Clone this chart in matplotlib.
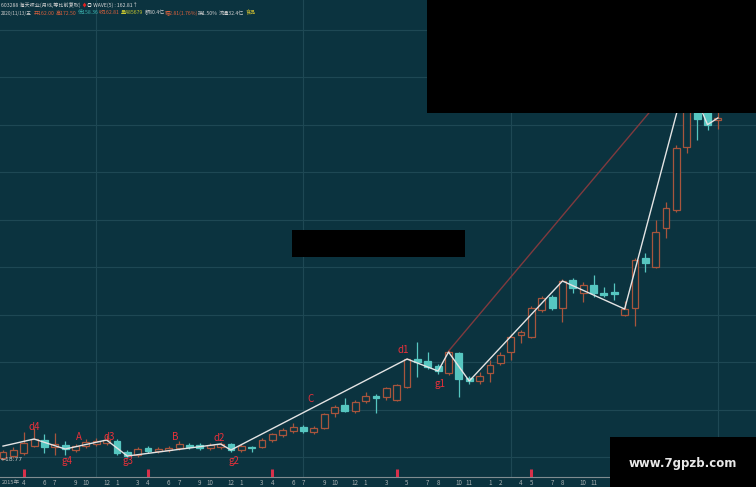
import matplotlib
matplotlib.use('Agg')
import matplotlib.pyplot as plt
import matplotlib.transforms as mtransforms
from matplotlib.patches import Rectangle
import numpy as np

plt.rcParams['font.family'] = ['Noto Sans CJK SC', 'DejaVu Sans']

# monthly bars, 2015-02 .. 2020-11 (603288, 前复权)
opens = [19.58, 20.42, 21.68, 24.63, 27.16, 24.21, 25.05, 22.95, 24.63, 25.48,
         25.90, 26.74, 22.11, 20.84, 23.79, 22.53, 22.95, 23.79, 25.05, 25.05,
         23.79, 24.21, 25.48, 22.95, 24.21, 24.21, 27.16, 29.27, 30.95, 32.64,
         30.53, 32.21, 38.53, 41.90, 39.38, 43.59, 45.69, 45.27, 44.01, 49.48,
         61.28, 60.44, 58.33, 55.38, 63.80, 53.27, 52.01, 55.38, 59.59, 64.23,
         71.39, 70.54, 81.92, 87.39, 82.76, 94.55, 89.08, 92.45, 89.08, 89.50,
         79.81, 82.76, 103.82, 100.03, 116.45, 124.04, 150.57, 179.63, 166.16, 162.00]
highs = [22.95, 24.21, 30.53, 32.21, 29.69, 30.11, 26.74, 25.48, 27.58, 28.00,
         29.27, 27.58, 22.95, 24.21, 24.63, 24.21, 24.63, 26.74, 25.90, 25.90,
         25.90, 26.32, 25.90, 25.48, 24.63, 28.00, 30.11, 32.21, 34.32, 33.48,
         33.06, 38.53, 41.90, 44.85, 44.01, 47.38, 46.54, 49.48, 50.75, 61.70,
         68.44, 64.23, 59.17, 65.07, 64.23, 54.12, 55.80, 60.86, 64.23, 71.81,
         73.49, 83.60, 87.81, 88.23, 94.97, 95.39, 93.71, 96.66, 91.60, 93.29,
         85.71, 103.82, 105.92, 119.82, 127.41, 151.41, 185.11, 183.00, 168.26, 172.50]
lows = [18.77, 19.58, 20.84, 24.21, 21.68, 20.84, 20.84, 22.11, 23.79, 24.63,
        25.05, 20.84, 20.00, 20.00, 21.68, 21.68, 22.11, 22.95, 23.37, 22.95,
        22.95, 23.37, 22.11, 22.11, 22.11, 23.79, 26.32, 28.42, 30.11, 30.11,
        29.69, 31.79, 36.85, 38.95, 38.53, 42.74, 38.53, 44.01, 43.59, 49.06,
        53.70, 57.07, 54.96, 54.54, 45.27, 50.75, 50.75, 51.59, 58.75, 60.86,
        68.02, 70.12, 81.07, 81.92, 76.86, 89.08, 85.29, 87.39, 87.39, 86.13,
        79.39, 75.18, 97.92, 99.61, 112.24, 123.19, 148.04, 153.52, 157.73, 158.36]
closes = [22.11, 22.95, 25.90, 27.58, 24.21, 25.48, 23.37, 24.63, 26.32, 26.74,
          27.16, 21.68, 20.42, 23.37, 22.53, 23.37, 23.79, 25.48, 24.21, 23.79,
          25.05, 25.48, 22.95, 24.63, 23.79, 27.16, 29.69, 31.37, 32.64, 30.95,
          32.21, 38.11, 41.06, 39.38, 43.17, 45.69, 44.85, 49.06, 50.33, 61.28,
          60.01, 57.91, 56.22, 64.23, 52.85, 52.01, 54.12, 58.75, 62.96, 70.54,
          72.65, 82.76, 86.97, 82.76, 94.13, 91.18, 92.45, 89.08, 88.23, 88.66,
          82.34, 102.98, 101.71, 114.77, 124.88, 150.15, 180.90, 162.36, 160.00, 162.81]

# WAVE zigzag turning points (bar index, price)
wave_idx = [0, 3, 6, 10, 12, 21, 22, 39, 42, 43, 45, 54, 60, 66, 68, 69]
wave_val = [24.6, 27.58, 23.37, 27.16, 20.42, 25.48, 22.95, 61.28, 56.22, 64.23,
            52.01, 94.13, 82.34, 180.90, 160.00, 162.81]

wave_names = ['d4', 'g4', 'A', 'd3', 'g3', 'B', 'd2', 'g2', 'C', 'd1', 'g1']
name_idx = [3.0, 6.2, 7.3, 10.3, 12.1, 16.6, 20.9, 22.3, 29.7, 38.6, 42.2]
name_val = [32.6, 18.3, 28.4, 28.4, 18.3, 28.4, 28.0, 18.3, 44.4, 65.1, 50.8]

trend_idx = [43, 66]
trend_val = [64.6, 183.9]

tick_idx = [2, 4, 5, 7, 8, 10,
            11, 13, 14, 16, 17, 19, 20, 22,
            23, 25, 26, 28, 29, 31, 32, 34,
            35, 37, 39, 41, 42, 44, 45,
            47, 48, 50, 51, 53, 54, 56, 57,
            59, 61, 63, 65, 66, 68, 69]
tick_lab = ['4', '6', '7', '9', '10', '12',
            '1', '3', '4', '6', '7', '9', '10', '12',
            '1', '3', '4', '6', '7', '9', '10', '12',
            '1', '3', '5', '7', '8', '10', '11',
            '1', '2', '4', '5', '7', '8', '10', '11',
            '1', '3', '5', '7', '8', '10', '11']
mark_idx = [2, 14, 26, 38, 51]

BG = '#0b333f'
UP = '#a8553d'
DN = '#56c6c0'
GRID = '#1e4854'

fig = plt.figure(figsize=(7.56, 4.87), dpi=100, facecolor=BG)
ax = fig.add_axes([0, 10 / 487, 1, 477 / 487])
ax.set_facecolor(BG)
ax.set_xlim(-0.29, 72.68)
ax.set_ylim(11.58, 212.5)

for p in range(20, 220, 20):
    ax.axhline(p, color=GRID, lw=0.8, zorder=0)
for i in [9, 29, 49, 69]:
    ax.axvline(i, color=GRID, lw=0.8, zorder=0)

w = 0.66
x = np.arange(len(closes))
for i in x:
    o, h, l, c = opens[i], highs[i], lows[i], closes[i]
    col = UP if c >= o else DN
    ax.vlines(i, l, h, color=col, lw=0.9, zorder=2)
    bot = min(o, c)
    hgt = max(abs(c - o), 0.25)
    face = BG if c >= o else col
    ax.add_patch(Rectangle((i - w / 2, bot), w, hgt, facecolor=face,
                           edgecolor=col, lw=0.9, zorder=3))

ax.plot(trend_idx, trend_val, color='#803a3e', lw=1.0, zorder=4)
ax.plot(wave_idx, wave_val, color='#e4e4e4', lw=1.0, zorder=5)

for s, xi, yi in zip(wave_names, name_idx, name_val):
    ax.text(xi, yi, s, color='#e8303a', fontsize=7, ha='center', va='center', zorder=6)

ax.text(-0.2, 18.77, '←18.77', color='#c8c8c8', fontsize=4.3, ha='left', va='center',
        family=['DejaVu Sans'], zorder=6)

ax.set_yticks([])
ax.set_xticks(tick_idx)
ax.set_xticklabels(tick_lab, fontsize=4.5, color='#a8b0b2')
ax.tick_params(axis='x', length=0, pad=1.5)
for sp in ['top', 'left', 'right']:
    ax.spines[sp].set_visible(False)
ax.spines['bottom'].set_color('#7f8c90')
ax.spines['bottom'].set_linewidth(0.8)

trans = mtransforms.blended_transform_factory(ax.transData, ax.transAxes)
ax.vlines(mark_idx, 0.001, 0.016, transform=trans, color='#d8304a', lw=2.2, zorder=6)
fig.text(2 / 756, 1 - 482.5 / 487, '2015年', color='#a8b0b2', fontsize=4.1,
         ha='left', va='center')

# header lines
def htext(px, py, s, c, fs=3.7):
    fig.text(px / 756, 1 - py / 487, s, color=c, fontsize=fs, ha='left', va='center')

htext(1, 5, '603288 海天味业(月线,等比前复权)', '#d0d0d0')
htext(81, 5, '♦', '#e02020')
htext(87, 5, '◎ WAVE(5) : 162.81↑', '#d8d8d8')
htext(1, 13, '2020/11/13/五', '#c8c8c8', 3.4)
htext(34, 13, '开162.00', '#d8603c')
htext(56, 13, '高172.50', '#d8603c')
htext(78, 13, '低158.36', '#3cb4b0')
htext(99, 13, '收162.81', '#d8603c')
htext(121, 13, '量485679', '#c8c830')
htext(145, 13, '额80.4亿', '#d0d0d0')
htext(165, 13, '幅2.81(1.76%)', '#d8603c')
htext(198, 13, '换1.50%', '#d0d0d0')
htext(219, 13, '流通32.4亿', '#d0d0d0')
htext(246, 13, '食品', '#d0c030')

# masking boxes
for bx, by, bw, bh in [(427, 0, 329, 113), (292, 230, 173, 27), (610, 437, 146, 50)]:
    fig.patches.append(Rectangle((bx / 756, 1 - (by + bh) / 487), bw / 756, bh / 487,
                                 transform=fig.transFigure, facecolor='black',
                                 edgecolor='none', zorder=20))
fig.text(683 / 756, 1 - 463 / 487, 'www.7gpzb.com', color='#e8e8e8', fontsize=8.5,
         fontweight='bold', ha='center', va='center', family=['DejaVu Sans'], zorder=21)

fig.savefig('out.png', dpi=100, facecolor=BG)
